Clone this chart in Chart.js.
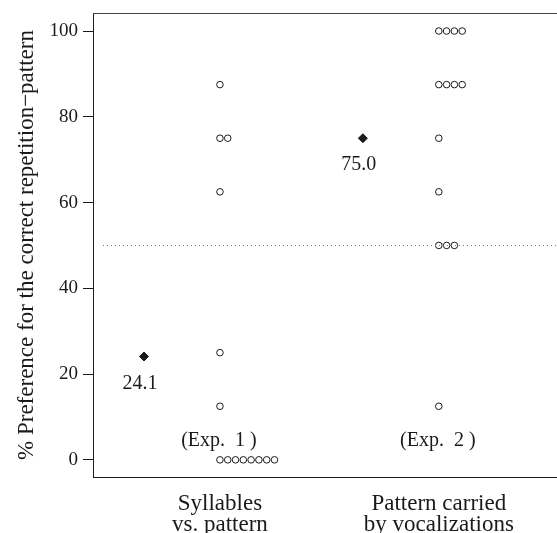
<!DOCTYPE html>
<html>
<head>
<meta charset="utf-8">
<script src="https://cdn.jsdelivr.net/npm/chart.js@4"></script>
<style>
  html, body { margin: 0; padding: 0; background: #fff; }
</style>
</head>
<body>
<canvas id="grafik" width="557" height="533"></canvas>
<script>
// podaci - grupe i pojedinacni rezultati
const groupLabels = [["Syllables", "vs. pattern"], ["Pattern carried", "by vocalizations"]];
const expLabels = ["(Exp.  1 )", "(Exp.  2 )"];
const exp1Scores = [87.5, 75, 75, 62.5, 25, 12.5, 0, 0, 0, 0, 0, 0, 0, 0];
const exp2Scores = [100, 100, 100, 100, 87.5, 87.5, 87.5, 87.5, 75, 62.5, 50, 50, 50, 12.5];
const groupMeans = [24.1, 75.0];
const yTicks = [0, 20, 40, 60, 80, 100];
const chanceLevel = 50;

const ink = "#1a1a1a";
const serif = "'Liberation Serif', 'DejaVu Serif', serif";
Chart.defaults.font.family = serif;
Chart.defaults.color = ink;

// tacke se slazu udesno kad je vise istih vrijednosti
const dotStep = 0.0356;
const meanOffset = -0.347;

function stackDots(scores, groupPos) {
  let seen = {};
  return scores.map((v) => {
    let k = seen[v] || 0;
    seen[v] = k + 1;
    return { x: groupPos + k * dotStep, y: v };
  });
}

const dotData = stackDots(exp1Scores, 1).concat(stackDots(exp2Scores, 2));
const meanData = groupMeans.map((m, i) => ({ x: i + 1 + meanOffset, y: m }));

// crtanje okvira, linije slucajnosti i tekstova
const overlay = {
  id: "overlay",
  afterDatasetsDraw(chart) {
    const { ctx, chartArea, scales } = chart;
    ctx.save();
    // gornja linija okvira
    ctx.strokeStyle = "#444";
    ctx.lineWidth = 1;
    ctx.beginPath();
    ctx.moveTo(chartArea.left, chartArea.top + 0.5);
    ctx.lineTo(chartArea.right, chartArea.top + 0.5);
    ctx.stroke();

    // isprekidana linija na 50%
    let yc = Math.round(scales.y.getPixelForValue(chanceLevel)) + 0.5;
    ctx.strokeStyle = "#777";
    ctx.setLineDash([1, 3]);
    ctx.beginPath();
    ctx.moveTo(chartArea.left + 10, yc);
    ctx.lineTo(chartArea.right, yc);
    ctx.stroke();
    ctx.setLineDash([]);

    ctx.fillStyle = ink;
    ctx.font = "20px " + serif;
    ctx.textAlign = "center";
    ctx.textBaseline = "middle";
    groupMeans.forEach((m, i) => {
      let px = scales.x.getPixelForValue(i + 1 + meanOffset);
      let py = scales.y.getPixelForValue(m);
      ctx.fillText(m.toFixed(1), px - 4, py + 27);
    });
    expLabels.forEach((t, i) => {
      let px = scales.x.getPixelForValue(i + 1);
      ctx.fillText(t, px - 1, scales.y.getPixelForValue(4.5));
    });
    ctx.restore();
  },
};

new Chart(document.getElementById("grafik"), {
  type: "scatter",
  data: {
    datasets: [
      {
        data: dotData,
        pointStyle: "circle",
        pointRadius: 3.3,
        borderWidth: 1,
        borderColor: ink,
        backgroundColor: "rgba(255,255,255,0)",
      },
      {
        data: meanData,
        pointStyle: "rectRot",
        pointRadius: 4.5,
        borderWidth: 1,
        borderColor: ink,
        backgroundColor: ink,
      },
    ],
  },
  options: {
    responsive: false,
    animation: false,
    layout: { autoPadding: false, padding: { top: 13, right: 0, bottom: 0, left: 0 } },
    plugins: { legend: { display: false }, tooltip: { enabled: false } },
    scales: {
      x: {
        type: "linear",
        min: 0.42,
        max: 2.54,
        afterBuildTicks: (s) => { s.ticks = [{ value: 1 }, { value: 2 }]; },
        afterFit: (s) => {
          s.height = 56;
          s.paddingLeft = 0;
          s.paddingRight = 0;
        },
        grid: { display: false, drawTicks: false },
        border: { display: true, color: ink, width: 1 },
        ticks: {
          callback: (v, i) => groupLabels[i],
          font: { size: 23, lineHeight: 0.92 },
          color: ink,
          padding: 16,
          maxRotation: 0,
          autoSkip: false,
        },
      },
      y: {
        min: -4,
        max: 104.2,
        afterBuildTicks: (s) => { s.ticks = yTicks.map((v) => ({ value: v })); },
        afterFit: (s) => {
          s.width = 93;
          s.paddingTop = 0;
          s.paddingBottom = 0;
        },
        grid: { display: true, drawOnChartArea: false, drawTicks: true, tickLength: 10, color: ink },
        border: { display: true, color: ink, width: 1 },
        ticks: { font: { size: 19 }, color: ink, padding: 5 },
        title: {
          display: true,
          text: "% Preference for the correct repetition\u2212pattern",
          font: { size: 23 },
          color: ink,
          padding: { top: 13, bottom: 0 },
        },
      },
    },
  },
  plugins: [overlay],
});
</script>
</body>
</html>
